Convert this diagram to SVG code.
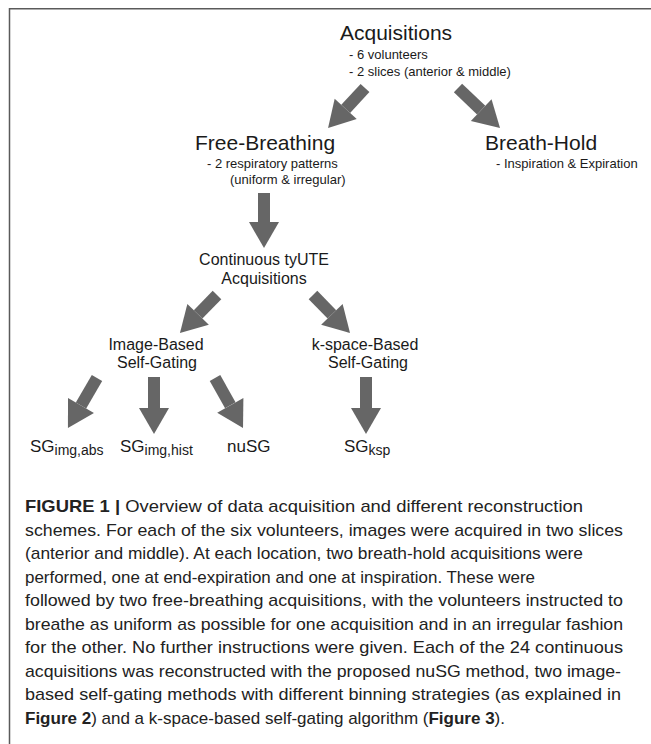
<svg xmlns="http://www.w3.org/2000/svg" width="651" height="744" viewBox="0 0 651 744">
<defs>
<style>
text{font-family:"Liberation Sans",Arial,sans-serif;fill:#1a1a1a}
.h{font-size:21px}
.s{font-size:13px}
.m{font-size:16px}
.l{font-size:17px}
.sub{font-size:14px}
.c{font-size:17px;fill:#222}
.b{font-weight:bold}
.shaft{stroke:#666;stroke-width:12;fill:none}
.frame{stroke:#5a5a5a;stroke-width:1.5;fill:none}
</style>
<marker id="head" markerUnits="userSpaceOnUse" markerWidth="27" markerHeight="30" refX="0" refY="15" orient="auto" overflow="visible">
<path d="M0,0 L26,15 L0,30 Z" fill="#666"/>
</marker>
</defs>
<rect width="651" height="744" fill="#fff"/>
<path class="frame" d="M9.5,744 V8.75 H651"/>

<g id="connectors">
<line class="shaft" x1="365" y1="88" x2="345.7" y2="108.9" marker-end="url(#head)"/>
<line class="shaft" x1="458" y1="88" x2="481.2" y2="110.1" marker-end="url(#head)"/>
<line class="shaft" x1="264" y1="193" x2="264" y2="222" marker-end="url(#head)"/>
<line class="shaft" x1="217" y1="295" x2="198.1" y2="314.4" marker-end="url(#head)"/>
<line class="shaft" x1="313" y1="295" x2="331.9" y2="314.4" marker-end="url(#head)"/>
<line class="shaft" x1="97" y1="378" x2="81" y2="405.5" marker-end="url(#head)"/>
<line class="shaft" x1="154" y1="377" x2="154" y2="408" marker-end="url(#head)"/>
<line class="shaft" x1="215" y1="378" x2="230.3" y2="405.3" marker-end="url(#head)"/>
<line class="shaft" x1="366" y1="377" x2="366" y2="408" marker-end="url(#head)"/>
</g>

<g id="acquisitions">
<text class="h" x="340" y="40">Acquisitions</text>
<text class="s" x="349" y="59">- 6 volunteers</text>
<text class="s" x="349" y="76">- 2 slices (anterior &amp; middle)</text>
</g>
<g id="free-breathing">
<text class="h" x="195" y="150">Free-Breathing</text>
<text class="s" x="207" y="168">- 2 respiratory patterns</text>
<text class="s" x="230" y="184">(uniform &amp; irregular)</text>
</g>
<g id="breath-hold">
<text class="h" x="485" y="150">Breath-Hold</text>
<text class="s" x="496" y="168">- Inspiration &amp; Expiration</text>
</g>
<g id="continuous">
<text class="m" x="264" y="265" text-anchor="middle">Continuous tyUTE</text>
<text class="m" x="264" y="284" text-anchor="middle">Acquisitions</text>
</g>
<g id="image-based">
<text class="m" x="156" y="350" text-anchor="middle">Image-Based</text>
<text class="m" x="157" y="368" text-anchor="middle">Self-Gating</text>
</g>
<g id="kspace-based">
<text class="m" x="365" y="350" text-anchor="middle">k-space-Based</text>
<text class="m" x="368" y="368" text-anchor="middle">Self-Gating</text>
</g>
<g id="sg-img-abs"><text class="l" x="30" y="452">SG<tspan class="sub" dy="3">img,abs</tspan></text></g>
<g id="sg-img-hist"><text class="l" x="120" y="452">SG<tspan class="sub" dy="3">img,hist</tspan></text></g>
<g id="nusg"><text class="l" x="227" y="452">nuSG</text></g>
<g id="sg-ksp"><text class="l" x="344" y="452">SG<tspan class="sub" dy="3">ksp</tspan></text></g>

<g id="caption">
<text class="c" x="25" y="512" textLength="558" lengthAdjust="spacingAndGlyphs"><tspan class="b">FIGURE 1 |</tspan> Overview of data acquisition and different reconstruction</text>
<text class="c" x="25" y="535.5" textLength="598" lengthAdjust="spacingAndGlyphs">schemes. For each of the six volunteers, images were acquired in two slices</text>
<text class="c" x="25" y="559" textLength="558" lengthAdjust="spacingAndGlyphs">(anterior and middle). At each location, two breath-hold acquisitions were</text>
<text class="c" x="25" y="582.5" textLength="510" lengthAdjust="spacingAndGlyphs">performed, one at end-expiration and one at inspiration. These were</text>
<text class="c" x="25" y="606" textLength="598" lengthAdjust="spacingAndGlyphs">followed by two free-breathing acquisitions, with the volunteers instructed to</text>
<text class="c" x="25" y="629.5" textLength="598" lengthAdjust="spacingAndGlyphs">breathe as uniform as possible for one acquisition and in an irregular fashion</text>
<text class="c" x="25" y="653" textLength="598" lengthAdjust="spacingAndGlyphs">for the other. No further instructions were given. Each of the 24 continuous</text>
<text class="c" x="25" y="676.5" textLength="596" lengthAdjust="spacingAndGlyphs">acquisitions was reconstructed with the proposed nuSG method, two image-</text>
<text class="c" x="25" y="700" textLength="596" lengthAdjust="spacingAndGlyphs">based self-gating methods with different binning strategies (as explained in</text>
<text class="c" x="25" y="723.5"><tspan class="b">Figure 2</tspan>) and a k-space-based self-gating algorithm (<tspan class="b">Figure 3</tspan>).</text>
</g>
</svg>
